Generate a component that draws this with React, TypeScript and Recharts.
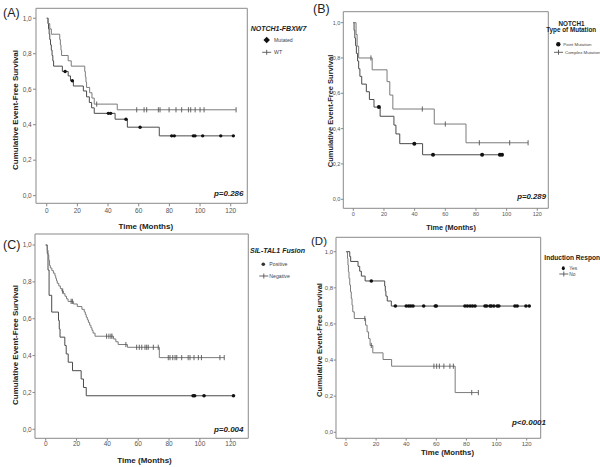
import React from "react";
import { ComposedChart, Line, Scatter, XAxis, YAxis, ReferenceArea } from "recharts";

type Step = [number, number];

// (A) NOTCH1-FBXW7
const aMutatedSteps: Step[] = [
  [0, 1], [0.8, 0.97], [1.2, 0.94], [1.6, 0.91], [2, 0.88], [2.5, 0.85], [3, 0.82],
  [3.5, 0.79], [4, 0.76], [4.5, 0.73], [10.2, 0.7], [14, 0.675], [15.5, 0.648],
  [17.4, 0.618], [23.9, 0.59], [26, 0.557], [27.8, 0.525], [29.3, 0.495], [31, 0.464],
  [44.6, 0.431], [52.6, 0.386], [73.4, 0.337],
];
const aMutatedCensored = [12, 16.7, 40.2, 41.7, 51.7, 60.9, 81.5, 83.2, 95.6, 96.7, 101.7, 113.5, 121.7];
const aWtSteps: Step[] = [
  [0, 1], [1, 0.97], [2, 0.94], [3, 0.91], [8.5, 0.88], [8.9, 0.85], [9.3, 0.82],
  [9.7, 0.79], [14, 0.76], [16, 0.73], [24.8, 0.7], [25.2, 0.67], [25.6, 0.64],
  [26, 0.61], [28, 0.58], [29.5, 0.55], [31, 0.516], [46, 0.484],
];
const aWtCensored = [32.6, 58.7, 63.5, 65.2, 72.8, 73.9, 79.8, 84.3, 88, 92.4, 93.9, 96.8, 100, 102.6, 123.5];

// (B) NOTCH1 type of mutation
const bPointSteps: Step[] = [
  [0, 1], [0.5, 0.957], [1, 0.913], [1.5, 0.87], [2, 0.826], [2.8, 0.783], [3.5, 0.739],
  [4.3, 0.696], [5.5, 0.652], [8.5, 0.609], [10.5, 0.565], [13.5, 0.522], [17.5, 0.47],
  [26.5, 0.42], [27.8, 0.37], [30.3, 0.315], [45.2, 0.252],
];
const bPointCensored = [16.7, 39.8, 52, 84, 95.6, 97];
const bComplexSteps: Step[] = [
  [0, 1], [1.8, 0.933], [2.5, 0.867], [3.5, 0.8], [12.3, 0.733], [22, 0.666],
  [23.8, 0.59], [25.8, 0.511], [52.8, 0.426], [73.5, 0.32],
];
const bComplexCensored = [11.5, 45, 60, 82.2, 102, 114];

// (C) SIL-TAL1 fusion
const cPositiveSteps: Step[] = [
  [0, 1], [1, 0.955], [1.5, 0.864], [2.2, 0.727], [3.9, 0.636], [8.3, 0.591], [8.8, 0.545],
  [9.3, 0.5], [12.4, 0.455], [13.3, 0.409], [14.6, 0.364], [17.4, 0.318], [23, 0.273],
  [24.5, 0.227], [26.3, 0.182],
];
const cPositiveCensored = [95.6, 96.6, 102.7, 121.8];
const cNegativeSteps: Step[] = [
  [0, 1], [1, 0.972], [1.5, 0.945], [2, 0.917], [2.5, 0.889], [3, 0.875], [4, 0.861],
  [5, 0.847], [6, 0.833], [6.5, 0.819], [7, 0.806], [7.5, 0.792], [8.5, 0.778],
  [9.5, 0.764], [10.5, 0.75], [11.5, 0.736], [12.5, 0.722], [13.5, 0.708], [14.5, 0.694],
  [18, 0.68], [20.5, 0.666], [23.5, 0.651], [25, 0.637], [25.7, 0.623], [26.3, 0.608],
  [27, 0.594], [27.7, 0.58], [28.5, 0.565], [29.3, 0.551], [30, 0.537], [30.7, 0.522],
  [32, 0.505], [44, 0.49], [45.5, 0.475], [47, 0.46], [53, 0.445], [73.7, 0.389],
];
const cNegativeCensored = [
  11, 16.5, 17.3, 39.5, 41, 42.3, 43, 52, 59, 60.7, 62.3, 64.4, 65.5, 66.5, 69.8, 73,
  79.5, 80.6, 82.4, 83.9, 85, 88.2, 92.4, 93.6, 96.2, 99, 101, 113, 115.8,
];

// (D) Induction response
const dYesSteps: Step[] = [
  [0, 1], [2.5, 0.973], [3.1, 0.946], [8, 0.919], [9.1, 0.892], [10.2, 0.865],
  [12.7, 0.838], [25.7, 0.81], [26.1, 0.782], [26.5, 0.754], [27.4, 0.727], [30.1, 0.699],
];
const dYesCensored = [
  16.8, 32.8, 40, 41.6, 43, 44.5, 51.6, 59.3, 60, 79, 80.6, 82.4, 84, 85.7, 92.3, 93.4,
  95.6, 96.5, 98.2, 100.4, 101.5, 112.2, 113.7, 119.5, 121.7,
];
const dNoSteps: Step[] = [
  [0, 1], [1, 0.963], [1.3, 0.926], [1.6, 0.889], [2, 0.852], [2.5, 0.815], [3, 0.778],
  [3.5, 0.741], [4, 0.704], [4.5, 0.667], [5.5, 0.63], [13, 0.593], [14, 0.556],
  [15, 0.519], [16, 0.481], [17.8, 0.44], [24.6, 0.403], [30.3, 0.366], [72.5, 0.22],
];
const dNoCensored = [12.5, 16.8, 58.4, 60.2, 62, 65, 69, 71.3, 83.5, 87.9];

const xTicks = [0, 20, 40, 60, 80, 100, 120];
const yTicks = [0, 0.2, 0.4, 0.6, 0.8, 1];

const FONT = "Arial, 'Liberation Sans', sans-serif";
const DARK = "#4a4a4a";
const LIGHT = "#7a7a7a";

const survAt = (steps: Step[], t: number) => {
  let s = 1;
  for (const [x, v] of steps) if (x <= t) s = v;
  return s;
};
const lineData = (steps: Step[], censored: number[]) => {
  const end = Math.max(steps[steps.length - 1][0], ...censored);
  return [...steps.map(([t, s]) => ({ t, s })), { t: end, s: survAt(steps, end) }];
};
const censorData = (steps: Step[], censored: number[]) =>
  censored.map((t) => ({ t, s: survAt(steps, t) }));

const PlusMark = (props: any) => {
  const { cx, cy } = props;
  return (
    <g>
      <line x1={cx} x2={cx} y1={cy - 2.6} y2={cy + 2.6} stroke="#555" strokeWidth={0.9} />
    </g>
  );
};
const DotMark = (r: number) => (props: any) => {
  const { cx, cy } = props;
  return <circle cx={cx} cy={cy} r={r} fill="#111" />;
};

type Series = { steps: Step[]; censored: number[]; color: string; dot: boolean };
type PanelProps = {
  left: number;
  top: number;
  width: number;
  height: number;
  yw: number;
  mt: number;
  xh: number;
  xd: [number, number];
  yd: [number, number];
  fs: number;
  tick: number;
  ytm: number;
  xtm: number;
  dotR: number;
  series: Series[];
};

function Panel(p: PanelProps) {
  return (
    <div style={{ position: "absolute", left: p.left, top: p.top }}>
      <ComposedChart
        width={p.width + 2}
        height={p.height}
        margin={{ top: p.mt, right: 2, left: 0, bottom: 0 }}
      >
        <XAxis
          type="number"
          dataKey="t"
          domain={p.xd}
          ticks={xTicks}
          interval={0}
          allowDataOverflow
          height={p.xh}
          axisLine={false}
          tickSize={p.tick}
          tickMargin={p.xtm}
          tickLine={{ stroke: "#888" }}
          tick={{ fontSize: p.fs, fill: "#555", fontFamily: FONT }}
        />
        <YAxis
          type="number"
          dataKey="s"
          domain={p.yd}
          ticks={yTicks}
          interval={0}
          allowDataOverflow
          width={p.yw}
          axisLine={false}
          tickSize={p.tick}
          tickMargin={p.ytm}
          tickLine={{ stroke: "#888" }}
          tick={{ fontSize: p.fs, fill: "#555", fontFamily: FONT }}
          tickFormatter={(v: number) => v.toFixed(1).replace(".", ",")}
        />
        <ReferenceArea
          x1={p.xd[0]}
          x2={p.xd[1]}
          y1={p.yd[0]}
          y2={p.yd[1]}
          fill="none"
          stroke="#8a8a8a"
          strokeWidth={1}
          ifOverflow="visible"
        />
        {p.series.map((s, i) => (
          <Line
            key={"l" + i}
            data={lineData(s.steps, s.censored)}
            dataKey="s"
            type="stepAfter"
            stroke={s.color}
            strokeWidth={1}
            dot={false}
            activeDot={false}
            isAnimationActive={false}
          />
        ))}
        {p.series.map((s, i) => (
          <Scatter
            key={"c" + i}
            data={censorData(s.steps, s.censored)}
            dataKey="s"
            shape={s.dot ? DotMark(p.dotR) : PlusMark}
            isAnimationActive={false}
          />
        ))}
      </ComposedChart>
    </div>
  );
}

function T(props: {
  x: number;
  y: number;
  s: number;
  children: React.ReactNode;
  bold?: boolean;
  italic?: boolean;
  anchor?: "start" | "middle" | "end";
  rotate?: boolean;
  fill?: string;
}) {
  return (
    <text
      x={props.x}
      y={props.y}
      fontSize={props.s}
      fontFamily={FONT}
      fontWeight={props.bold ? "bold" : "normal"}
      fontStyle={props.italic ? "italic" : "normal"}
      textAnchor={props.anchor || "start"}
      dominantBaseline="central"
      fill={props.fill || "#222"}
      transform={props.rotate ? `rotate(-90 ${props.x} ${props.y})` : undefined}
    >
      {props.children}
    </text>
  );
}

const LegendPlus = ({ x, y }: { x: number; y: number }) => (
  <g>
    <line x1={x - 4.5} x2={x + 4.5} y1={y} y2={y} stroke="#555" strokeWidth={0.9} />
    <line x1={x} x2={x} y1={y - 2.5} y2={y + 2.5} stroke="#555" strokeWidth={0.9} />
  </g>
);

export default function App() {
  return (
    <div style={{ position: "absolute", left: 0, top: 0, width: 600, height: 467, background: "#fff", overflow: "hidden" }}>
      <Panel
        left={0} top={0} width={247.3} height={219.3} yw={36} mt={8.3} xh={16}
        xd={[-6.98, 130.8]} yd={[-0.043, 1.056]} fs={6.5} tick={3} ytm={1.3} xtm={2} dotR={1.7}
        series={[
          { steps: aMutatedSteps, censored: aMutatedCensored, color: DARK, dot: true },
          { steps: aWtSteps, censored: aWtCensored, color: LIGHT, dot: false },
        ]}
      />
      <Panel
        left={300} top={0} width={248.3} height={225} yw={43.3} mt={11.7} xh={16.7}
        xd={[-6.52, 127.17]} yd={[-0.051, 1.062]} fs={5.5} tick={2.5} ytm={0.5} xtm={1.5} dotR={2}
        series={[
          { steps: bPointSteps, censored: bPointCensored, color: DARK, dot: true },
          { steps: bComplexSteps, censored: bComplexCensored, color: LIGHT, dot: false },
        ]}
      />
      <Panel
        left={0} top={225} width={248.3} height={231.3} yw={35} mt={9} xh={18}
        xd={[-6.94, 131.4]} yd={[-0.0488, 1.0597]} fs={6.5} tick={2.5} ytm={0.8} xtm={0.5} dotR={1.8}
        series={[
          { steps: cPositiveSteps, censored: cPositiveCensored, color: DARK, dot: true },
          { steps: cNegativeSteps, censored: cNegativeCensored, color: LIGHT, dot: false },
        ]}
      />
      <Panel
        left={300} top={225} width={240.7} height={229.3} yw={36} mt={12.3} xh={16}
        xd={[-6.64, 129.3]} yd={[-0.0332, 1.0797]} fs={6} tick={2.3} ytm={0.5} xtm={0.8} dotR={1.8}
        series={[
          { steps: dYesSteps, censored: dYesCensored, color: DARK, dot: true },
          { steps: dNoSteps, censored: dNoCensored, color: LIGHT, dot: false },
        ]}
      />
      <svg width={600} height={467} style={{ position: "absolute", left: 0, top: 0, pointerEvents: "none" }}>
        {/* panel labels */}
        <T x={3} y={12.5} s={12.5}>(A)</T>
        <T x={313} y={9.2} s={12.5}>(B)</T>
        <T x={3} y={244.5} s={12.5}>(C)</T>
        <T x={311} y={240.5} s={11.5}>(D)</T>

        {/* axis titles */}
        <T x={15} y={110} s={8} bold anchor="middle" rotate>Cumulative Event-Free Survival</T>
        <T x={145.8} y={226} s={8} bold anchor="middle">Time (Months)</T>
        <T x={330} y={111} s={7.5} bold anchor="middle" rotate>Cumulative Event-Free Survival</T>
        <T x={451} y={227.7} s={7.3} bold anchor="middle">Time (Months)</T>
        <T x={15} y={345} s={8} bold anchor="middle" rotate>Cumulative Event-Free Survival</T>
        <T x={144.5} y={460} s={8} bold anchor="middle">Time (Months)</T>
        <T x={319} y={340} s={7.6} bold anchor="middle" rotate>Cumulative Event-Free Survival</T>
        <T x={447.5} y={452.7} s={7.8} bold anchor="middle">Time (Months)</T>

        {/* p-values */}
        <T x={243.5} y={193} s={8} bold italic anchor="end">p=0.286</T>
        <T x={546} y={196.7} s={7.8} bold italic anchor="end">p=0.289</T>
        <T x={243.5} y={429.3} s={8} bold italic anchor="end">p=0.004</T>
        <T x={546} y={422.7} s={8} bold italic anchor="end">p&lt;0.0001</T>

        {/* legend A */}
        <T x={250.7} y={28.3} s={7} bold italic>NOTCH1-FBXW7</T>
        <rect x={264.4} y={37.7} width={4.6} height={4.6} fill="#111" transform="rotate(45 266.7 40)" />
        <T x={274} y={40} s={5.2} fill="#444">Mutated</T>
        <LegendPlus x={266.7} y={52.3} />
        <T x={274} y={52.3} s={5.2} fill="#444">WT</T>

        {/* legend B */}
        <T x={571.5} y={23.3} s={6.3} bold anchor="middle">NOTCH1</T>
        <T x={571.2} y={29.6} s={6.3} bold anchor="middle">Type of Mutation</T>
        <circle cx={558.3} cy={44.3} r={2.2} fill="#111" />
        <T x={563.3} y={44.3} s={4.4} fill="#444">Point Mutation</T>
        <LegendPlus x={558.5} y={52.3} />
        <T x={565} y={52.3} s={4.4} fill="#444">Complex Mutation</T>

        {/* legend C */}
        <T x={250} y={250.7} s={7} bold italic>SIL-TAL1 Fusion</T>
        <circle cx={263.3} cy={264.3} r={1.8} fill="#333" />
        <T x={269.3} y={264.3} s={5.2} fill="#444">Positive</T>
        <LegendPlus x={263.8} y={276} />
        <T x={269.3} y={276} s={5.2} fill="#444">Negative</T>

        {/* legend D (title is cut at the figure edge in the source) */}
        <T x={544.3} y={257.3} s={6.6} bold>Induction Respon</T>
        <ellipse cx={563.3} cy={268.3} rx={1.5} ry={2} fill="#111" />
        <T x={569.3} y={268.3} s={4.8} fill="#444">Yes</T>
        <LegendPlus x={563.8} y={274} />
        <T x={569.3} y={274} s={4.8} fill="#444">No</T>
      </svg>
    </div>
  );
}
